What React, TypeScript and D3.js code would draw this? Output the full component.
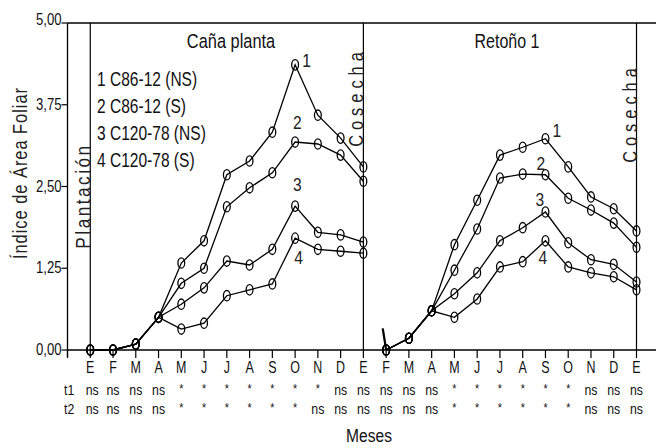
import React from "react";
import * as d3 from "d3";

const months = ["E", "F", "M", "A", "M", "J", "J", "A", "S", "O", "N", "D", "E", "F", "M", "A", "M", "J", "J", "A", "S", "O", "N", "D", "E"];
const t1 = ["ns", "ns", "ns", "ns", "*", "*", "*", "*", "*", "*", "*", "ns", "ns", "ns", "ns", "ns", "*", "*", "*", "*", "*", "*", "ns", "ns", "ns"];
const t2 = ["ns", "ns", "ns", "ns", "*", "*", "*", "*", "*", "*", "ns", "ns", "ns", "ns", "ns", "ns", "*", "*", "*", "*", "*", "*", "ns", "ns", "ns"];
const yTicks = [0, 1.25, 2.5, 3.75, 5];

// Caña planta: months E..E (index 0..12)
const planta1 = [0, 0, 0.09, 0.5, 1.33, 1.67, 2.68, 2.89, 3.33, 4.36, 3.59, 3.24, 2.8];
const planta2 = [0, 0, 0.09, 0.5, 1.02, 1.25, 2.19, 2.48, 2.71, 3.18, 3.15, 2.98, 2.58];
const planta3 = [0, 0, 0.09, 0.5, 0.7, 0.95, 1.36, 1.3, 1.54, 2.2, 1.8, 1.76, 1.65];
const planta4 = [0, 0, 0.09, 0.5, 0.32, 0.41, 0.83, 0.92, 1.01, 1.71, 1.54, 1.51, 1.48];
// Retoño 1: months F..E (index 13..24)
const retono1 = [0, 0.18, 0.6, 1.61, 2.29, 2.98, 3.1, 3.23, 2.8, 2.34, 2.16, 1.82];
const retono2 = [0, 0.18, 0.6, 1.22, 1.85, 2.63, 2.69, 2.68, 2.32, 2.14, 1.94, 1.57];
const retono3 = [0, 0.18, 0.6, 0.86, 1.18, 1.67, 1.87, 2.11, 1.64, 1.38, 1.31, 1.04];
const retono4 = [0, 0.18, 0.6, 0.5, 0.78, 1.27, 1.35, 1.67, 1.27, 1.18, 1.12, 0.92];

const legend = ["1 C86-12 (NS)", "2 C86-12 (S)", "3 C120-78 (NS)", "4 C120-78 (S)"];
const labelsPlanta = [
  { t: "1", i: 9.5, v: 4.43 },
  { t: "2", i: 9.1, v: 3.48 },
  { t: "3", i: 9.1, v: 2.54 },
  { t: "4", i: 9.15, v: 1.42 },
];
const labelsRetono = [
  { t: "1", i: 20.5, v: 3.36 },
  { t: "2", i: 19.8, v: 2.86 },
  { t: "3", i: 19.75, v: 2.3 },
  { t: "4", i: 19.88, v: 1.42 },
];
const stray = [
  { i: 12.85, v: 0.33 },
  { i: 13, v: 0 },
];

const W = 656;
const H = 446;

// condensed text: Liberation Sans squeezed along its reading direction
function NText(props: {
  x: number;
  y: number;
  size: number;
  rot?: number;
  sx?: number;
  anchor?: string;
  spacing?: number;
  dy?: string;
  fill?: string;
  children: React.ReactNode;
}) {
  const { x, y, size, rot = 0, sx = 0.82, anchor = "start", spacing = 0, dy, fill = "#111", children } = props;
  return (
    <text
      transform={`translate(${x},${y}) rotate(${rot}) scale(${sx},1)`}
      textAnchor={anchor}
      fontSize={size}
      letterSpacing={spacing / sx}
      dy={dy}
      fill={fill}
    >
      {children}
    </text>
  );
}

export default function App() {
  const x = d3.scaleLinear().domain([-1, 24]).range([67.5, 636.5]);
  const y = d3.scaleLinear().domain([0, 5]).range([350, 23]);
  const line = d3
    .line<{ i: number; v: number }>()
    .x((d) => x(d.i))
    .y((d) => y(d.v));

  const series = [
    ...[planta1, planta2, planta3, planta4].map((s) => s.map((v, k) => ({ i: k, v }))),
    ...[retono1, retono2, retono3, retono4].map((s) => s.map((v, k) => ({ i: k + 13, v }))),
  ];

  const x0 = x(-1);
  const y0 = y(0);

  return (
    <svg
      width={W}
      height={H}
      style={{ position: "absolute", left: 0, top: 0, background: "#fff" }}
      fontFamily="'Liberation Sans', Arial, sans-serif"
    >
      {/* frame */}
      <line x1={x0} x2={W} y1={y(5)} y2={y(5)} stroke="#000" strokeWidth={1.3} />
      <line x1={x0} x2={x0} y1={y(5)} y2={y0 + 7} stroke="#000" strokeWidth={1.3} />
      <line x1={x0} x2={W} y1={y0} y2={y0} stroke="#000" strokeWidth={1.3} />
      {[0, 12, 24].map((i) => (
        <line key={i} x1={x(i)} x2={x(i)} y1={y(5)} y2={y0} stroke="#000" strokeWidth={1.2} />
      ))}

      {/* y axis */}
      {yTicks.map((t) => (
        <g key={t}>
          <line x1={x0 - 6} x2={x0} y1={y(t)} y2={y(t)} stroke="#000" strokeWidth={1.2} />
          <NText x={x0 - 6} y={y(t) + (t === 5 ? 2 : 5)} size={16} anchor="end">
            {d3.format(".2f")(t).replace(".", ",")}
          </NText>
        </g>
      ))}
      <NText x={27} y={173} rot={-90} anchor="middle" size={20} spacing={1} fill="#222">
        Índice de Área Foliar
      </NText>

      {/* x axis */}
      {d3.range(-1, 25).map((i) => (
        <line key={i} x1={x(i)} x2={x(i)} y1={y0} y2={y0 + 8} stroke="#000" strokeWidth={1.2} />
      ))}
      {months.map((m, i) => (
        <NText key={"m" + i} x={x(i)} y={373} anchor="middle" size={16} sx={0.78}>
          {m}
        </NText>
      ))}
      <NText x={64} y={395} size={15}>t1</NText>
      <NText x={64} y={414} size={15}>t2</NText>
      {t1.map((s, i) => (
        <NText key={"a" + i} x={x(i) + (i === 0 ? 2 : 0)} y={s === "*" ? 393 : 395} anchor="middle" size={s === "*" ? 13 : 15}>
          {s}
        </NText>
      ))}
      {t2.map((s, i) => (
        <NText key={"b" + i} x={x(i) + (i === 0 ? 2 : 0)} y={s === "*" ? 412 : 414} anchor="middle" size={s === "*" ? 13 : 15}>
          {s}
        </NText>
      ))}
      <NText x={369} y={442} anchor="middle" size={19}>
        Meses
      </NText>

      {/* annotations */}
      <NText x={231} y={48} anchor="middle" size={19.5} sx={0.84}>
        Caña planta
      </NText>
      <NText x={507} y={48} anchor="middle" size={19.5} sx={0.82}>
        Retoño 1
      </NText>
      {legend.map((l, k) => (
        <NText key={l} x={97} y={86 + k * 27} size={21} sx={0.74}>
          {l}
        </NText>
      ))}
      <NText x={x(0)} y={196} rot={-90} anchor="middle" size={21} spacing={2.5} fill="#222">
        Plantación
      </NText>
      <NText x={x(12)} y={97} rot={-90} anchor="middle" size={20} spacing={5} fill="#222">
        Cosecha
      </NText>
      <NText x={x(24)} y={113} rot={-90} anchor="middle" size={20} spacing={5} fill="#222">
        Cosecha
      </NText>

      {/* series */}
      {series.map((s, k) => (
        <g key={k}>
          <path d={line(s) ?? ""} fill="none" stroke="#000" strokeWidth={1.3} />
          {s.map((d, j) => (
            <ellipse key={j} cx={x(d.i)} cy={y(d.v)} rx={3.4} ry={5.2} fill="none" stroke="#000" strokeWidth={1.3} />
          ))}
        </g>
      ))}
      <path d={line(stray) ?? ""} fill="none" stroke="#000" strokeWidth={2.2} />
      {[...labelsPlanta, ...labelsRetono].map((l, k) => (
        <NText key={"l" + k} x={x(l.i)} y={y(l.v)} dy="0.35em" anchor="middle" size={19} fill="#222">
          {l.t}
        </NText>
      ))}
    </svg>
  );
}
